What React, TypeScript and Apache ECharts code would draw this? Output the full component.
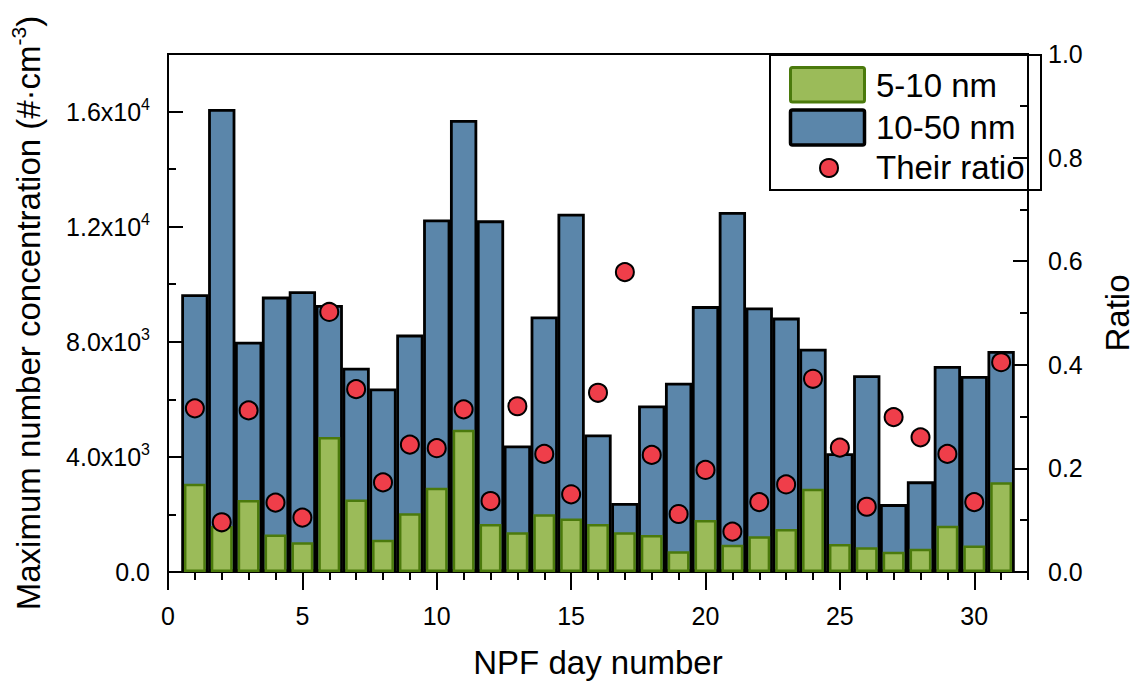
import React, { useEffect, useRef } from 'react';
import * as echarts from 'echarts';

// ---- data ----
const days = [1, 2, 3, 4, 5, 6, 7, 8, 9, 10, 11, 12, 13, 14, 15, 16, 17, 18, 19, 20, 21, 22, 23, 24, 25, 26, 27, 28, 29, 30, 31];
const conc10to50 = [9650, 16090, 8000, 9570, 9760, 9280, 7100, 6380, 8250, 12250, 15710, 12220, 4400, 8880, 12450, 4780, 2400, 5790, 6580, 9240, 12510, 9190, 8840, 7760, 4130, 6840, 2360, 3150, 7160, 6810, 7680];
const conc5to10 = [3070, 1600, 2500, 1300, 1030, 4690, 2520, 1120, 2040, 2930, 4940, 1670, 1380, 2010, 1860, 1670, 1380, 1290, 720, 1810, 950, 1240, 1490, 2890, 970, 860, 700, 810, 1610, 920, 3120];
const ratioVals = [0.316, 0.096, 0.312, 0.134, 0.105, 0.502, 0.353, 0.173, 0.246, 0.239, 0.314, 0.137, 0.320, 0.228, 0.150, 0.346, 0.579, 0.226, 0.112, 0.197, 0.078, 0.135, 0.169, 0.373, 0.240, 0.126, 0.299, 0.260, 0.228, 0.135, 0.405];
const xMajorTicks = [0, 5, 10, 15, 20, 25, 30];
const leftMajorTicks = [0, 4000, 8000, 12000, 16000];
const seriesNames = ['5-10 nm', '10-50 nm', 'Their ratio'];

const W = 1145;
const H = 687;
const GRID = { left: 167, right: 104, top: 54, bottom: 107 };
const FONT = '"Liberation Sans", Arial, sans-serif';
const BLUE = '#5b86aa';
const GREEN = '#9bbb59';
const GREEN_EDGE = '#4b7a0c';
const RED = '#ef3e4a';

function sciLabel(v: number): string {
  if (v === 0) return '{n|0.0}';
  const e = Math.floor(Math.log10(v));
  const m = (v / Math.pow(10, e)).toFixed(1);
  return `{n|${m}x10}{s|${e}}`;
}

export default function App() {
  const ref = useRef<HTMLDivElement>(null);
  useEffect(() => {
    if (!ref.current) return;
    const chart = echarts.init(ref.current, undefined, { renderer: 'svg' });
    const plotW = W - GRID.left - GRID.right;
    const unit = plotW / 32;
    const legendX = 770;
    const legendY = 55;
    const legendRight = W - GRID.right;
    const option: any = {
      animation: false,
      backgroundColor: '#fff',
      grid: { ...GRID, show: true, borderColor: '#000', borderWidth: 2, backgroundColor: 'transparent' },
      xAxis: [
        {
          type: 'value',
          min: 0,
          max: 32,
          interval: 5,
          name: 'NPF day number',
          nameLocation: 'middle',
          nameGap: 70,
          nameTextStyle: { fontFamily: FONT, fontSize: 33, color: '#000', lineHeight: 40 },
          axisLine: { show: true, lineStyle: { color: '#000', width: 2 } },
          axisTick: { show: true, inside: false, length: 18, lineStyle: { color: '#000', width: 2 }, customValues: xMajorTicks },
          axisLabel: {
            fontFamily: FONT, fontSize: 25, color: '#000', margin: 29, lineHeight: 30,
            customValues: xMajorTicks,
            formatter: (v: number) => (v % 5 === 0 ? String(v) : ''),
          },
          splitLine: { show: false },
        },
        {
          type: 'value',
          min: 0,
          max: 32,
          interval: 1,
          position: 'bottom',
          axisLine: { show: false },
          axisTick: { show: true, inside: false, length: 8, lineStyle: { color: '#000', width: 2 } },
          axisLabel: { show: false },
          splitLine: { show: false },
        },
      ],
      yAxis: [
        {
          type: 'value',
          min: 0,
          max: 18000,
          interval: 4000,
          position: 'left',
          name: '{a|Maximum number concentration (#·cm}{s|-3}{a|)}',
          nameLocation: 'middle',
          nameGap: 120,
          nameRotate: 90,
          nameTextStyle: {
            color: '#000',
            rich: {
              a: { fontFamily: FONT, fontSize: 33, color: '#000', lineHeight: 40 },
              s: { fontFamily: FONT, fontSize: 21, color: '#000', lineHeight: 26, verticalAlign: 'top' },
            },
          },
          axisLine: { show: true, lineStyle: { color: '#000', width: 2 } },
          axisTick: { show: true, inside: true, length: 15, lineStyle: { color: '#000', width: 2 }, customValues: leftMajorTicks },
          axisLabel: {
            margin: 18,
            customValues: leftMajorTicks,
            formatter: sciLabel,
            rich: {
              n: { fontFamily: FONT, fontSize: 25, color: '#000', lineHeight: 30 },
              s: { fontFamily: FONT, fontSize: 16, color: '#000', lineHeight: 20, verticalAlign: 'top' },
            },
          },
          splitLine: { show: false },
        },
        {
          type: 'value',
          min: 0,
          max: 18000,
          interval: 2000,
          position: 'left',
          axisLine: { show: false },
          axisTick: { show: true, inside: true, length: 8, lineStyle: { color: '#000', width: 2 } },
          axisLabel: { show: false },
          splitLine: { show: false },
        },
        {
          type: 'value',
          min: 0,
          max: 1,
          interval: 0.2,
          position: 'right',
          name: 'Ratio',
          nameLocation: 'middle',
          nameGap: 69,
          nameRotate: 90,
          nameTextStyle: { fontFamily: FONT, fontSize: 33, color: '#000', lineHeight: 40 },
          axisLine: { show: true, lineStyle: { color: '#000', width: 2 } },
          axisTick: { show: true, inside: true, length: 15, lineStyle: { color: '#000', width: 2 } },
          minorTick: { show: true, splitNumber: 2, length: 8, lineStyle: { color: '#000', width: 2 } },
          axisLabel: {
            fontFamily: FONT, fontSize: 25, color: '#000', margin: 20,
            formatter: (v: number) => v.toFixed(1),
          },
          splitLine: { show: false },
        },
      ],
      series: [
        {
          name: seriesNames[1],
          type: 'bar',
          xAxisIndex: 0,
          yAxisIndex: 0,
          barWidth: unit,
          data: days.map((d, i) => [d, conc10to50[i]]),
          itemStyle: { color: BLUE, borderColor: '#000', borderWidth: 2.8 },
          z: 2,
        },
        {
          name: seriesNames[0],
          type: 'bar',
          xAxisIndex: 1,
          yAxisIndex: 0,
          barWidth: unit * 0.8,
          data: days.map((d, i) => [d, conc5to10[i]]),
          itemStyle: { color: GREEN, borderColor: GREEN_EDGE, borderWidth: 2.5 },
          z: 3,
        },
        {
          name: seriesNames[2],
          type: 'scatter',
          xAxisIndex: 0,
          yAxisIndex: 2,
          symbol: 'circle',
          symbolSize: 18,
          data: days.map((d, i) => [d, ratioVals[i]]),
          itemStyle: { color: RED, borderColor: '#000', borderWidth: 2, opacity: 1 },
          z: 4,
        },
      ],
      graphic: [
        {
          type: 'group',
          z: 100,
          children: [
            {
              type: 'rect',
              shape: { x: legendX, y: legendY, width: legendRight - legendX, height: 135 },
              style: { fill: '#fff', stroke: '#000', lineWidth: 2 },
            },
            {
              type: 'rect',
              shape: { x: 790.5, y: 67.5, width: 74, height: 34.5, r: 2 },
              style: { fill: GREEN, stroke: GREEN_EDGE, lineWidth: 3 },
            },
            {
              type: 'rect',
              shape: { x: 790.5, y: 110, width: 74, height: 35, r: 2 },
              style: { fill: BLUE, stroke: '#000', lineWidth: 3.5 },
            },
            {
              type: 'circle',
              shape: { cx: 829, cy: 168, r: 9 },
              style: { fill: RED, stroke: '#000', lineWidth: 2 },
            },
            {
              type: 'text',
              x: 876, y: 85,
              style: { text: seriesNames[0], font: `33px ${FONT}`, fill: '#000', verticalAlign: 'middle', align: 'left' },
            },
            {
              type: 'text',
              x: 876, y: 127.5,
              style: { text: seriesNames[1], font: `33px ${FONT}`, fill: '#000', verticalAlign: 'middle', align: 'left' },
            },
            {
              type: 'text',
              x: 876, y: 167,
              style: { text: seriesNames[2], font: `33px ${FONT}`, fill: '#000', verticalAlign: 'middle', align: 'left' },
            },
          ],
        },
      ],
    };
    chart.setOption(option);
    return () => chart.dispose();
  }, []);
  return (
    <div style={{ position: 'fixed', left: 0, top: 0, width: W, height: H, background: '#fff' }}>
      <div ref={ref} style={{ width: W, height: H }} />
    </div>
  );
}
